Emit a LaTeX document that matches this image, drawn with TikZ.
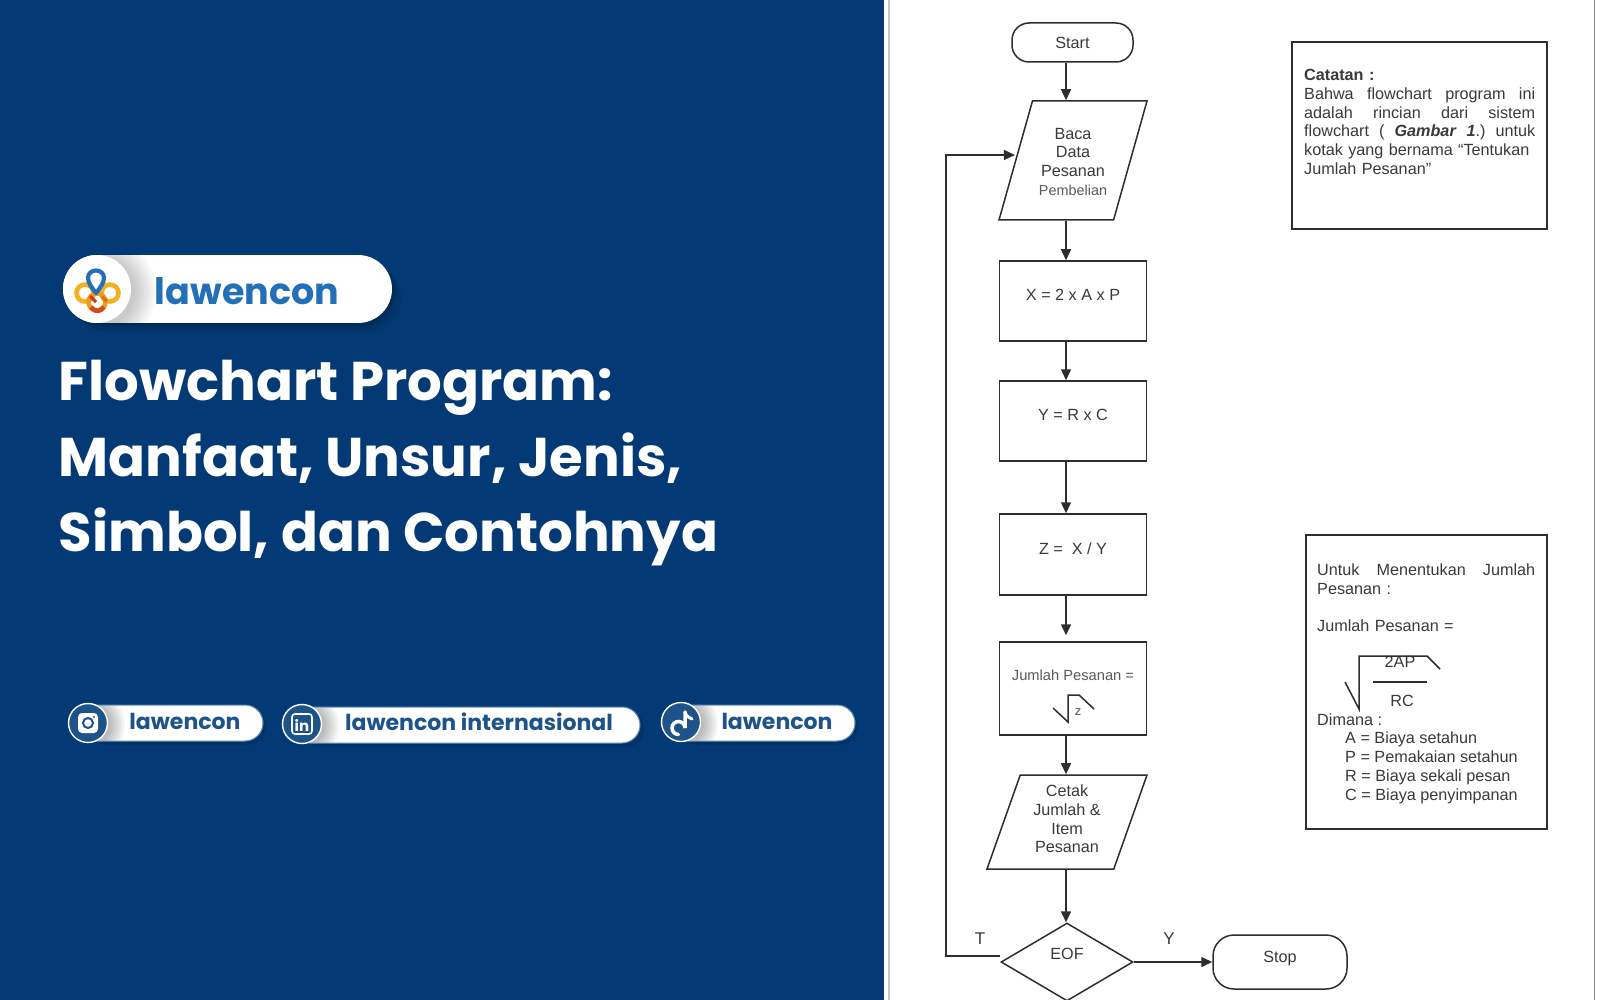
\documentclass[tikz,border=0pt]{standalone}
\usepackage{fontspec}
\setmainfont{Liberation Sans}
\newfontfamily\popf{Poppins}
\usetikzlibrary{arrows.meta,shapes.geometric,calc}
\definecolor{navy}{HTML}{033A75}
\definecolor{ink}{HTML}{2E2E2E}
\definecolor{txt}{HTML}{3A3A3A}
\definecolor{soft}{HTML}{5A5A5A}
\definecolor{brand}{HTML}{2470B8}
\definecolor{social}{HTML}{1D5389}
\definecolor{rim}{HTML}{5F8DBB}
\definecolor{edgeA}{HTML}{C6C6C6}
\definecolor{edgeB}{HTML}{8A8A8A}
\definecolor{ringA}{HTML}{F4B01E}
\definecolor{ringB}{HTML}{EE9A1C}
\definecolor{ringC}{HTML}{D8481C}
\definecolor{ringD}{HTML}{C9391E}
\definecolor{ringE}{HTML}{E46A1E}
\newcommand\lift[2]{\raisebox{#1}[0pt][0pt]{#2}}
\newcommand\jl[1]{\makebox[231pt][s]{#1}}
\tikzset{
  fc/.style={draw=ink,line width=1.5pt,fill=white,inner sep=0pt,text=txt,align=center,
    font=\fontsize{16.2}{18.6}\selectfont},
  procbox/.style={fc,rectangle,minimum width=147pt},
  termbox/.style={fc,rectangle},
  iobox/.style={fc,trapezium,trapezium stretches body=true},
  arr/.style={draw=ink,line width=1.5pt,-{Triangle[length=11pt,width=10pt]}},
  note/.style={draw=ink,line width=1.5pt,fill=white},
  notetxt/.style={inner sep=0pt,anchor=north west,align=left,text=txt,
    font=\fontsize{16.2}{18.8}\selectfont},
  title/.style={inner sep=0pt,anchor=base west,text=white,font=\popf\bfseries\fontsize{54.5}{60}\selectfont},
  pill/.style={fill=white,draw=rim,line width=1pt,rounded corners=18pt},
  badge/.style={circle,fill=social,draw=white,line width=1.4pt,minimum size=39pt,inner sep=0pt},
  sociallab/.style={inner sep=0pt,text=social,font=\popf\bfseries\fontsize{22}{24}\selectfont},
  handdrawn/.style={draw=ink,line width=1.5pt,line join=miter},
}
\begin{document}
\begin{tikzpicture}[x=1pt,y=-1pt]
\useasboundingbox (0,0) rectangle (1600,1000);
% page
\fill[white] (0,0) rectangle (1600,1000);
\fill[navy] (0,0) rectangle (884,1000);
\fill[edgeA] (887.5,0) rectangle (890,1000);
\fill[edgeB] (1593.5,0) rectangle (1595,1000);

% ---------- logo pill
\foreach \s/\o in {10/.05,7/.06,4/.08,2/.08}{
  \fill[black,opacity=\o,rounded corners=34pt] (63+\s,255+\s) rectangle (392+\s,323+\s);
}
\begin{scope}
  \clip[rounded corners=34pt] (63,255) rectangle (392,323);
  \fill[white] (63,255) rectangle (392,323);
  \foreach \r in {35,38,...,56}{ \fill[black,opacity=.028] (100,292) circle[radius=\r]; }
\end{scope}
\node[circle,fill=white,minimum size=68pt,inner sep=0pt] (logocircle) at (97,289) {};
\begin{scope}[line width=4.6pt]
  \draw[ringA] (85,293) circle[radius=8.5];
  \draw[ringA] (110,293) circle[radius=8.5];
  \draw[ringB] (97,302) circle[radius=8.5];
  \draw[ringC] (91,307) arc[start angle=150,end angle=30,radius=7.5];
  \draw[ringD,line width=3pt] (90,296) -- (96,302);
  \draw[ringE,line width=3pt] (102,297) -- (107,301);
\end{scope}
\draw[brand,line width=4.2pt,line join=round]
  (96,293) .. controls (92,288) and (88,283) .. (88,278)
  .. controls (88,268) and (104,268) .. (104,278)
  .. controls (104,283) and (100,288) .. (96,293) -- cycle;
\node[inner sep=0pt,text=brand,font=\popf\bfseries\fontsize{36.5}{40}\selectfont] (logotext) at (247,291) {lawencon};

% ---------- title
\node[title] (t1) at (58.5,400.5) {Flowchart Program:};
\node[title] (t2) at (58.5,476) {Manfaat, Unsur, Jenis,};
\node[title] (t3) at (58.5,551.5) {Simbol, dan Contohnya};

% ---------- social pills
\fill[black,opacity=.12,rounded corners=18pt] (90,708) rectangle (266,745);
\fill[black,opacity=.12,rounded corners=18pt] (302,710) rectangle (644,747);
\fill[black,opacity=.12,rounded corners=18pt] (680,708) rectangle (858,745);
\draw[pill] (80,705) rectangle (263,741);
\draw[pill] (292,707) rectangle (640,743);
\draw[pill] (670,705) rectangle (855,741);
\begin{scope}
  \clip[rounded corners=18pt] (80,705.5) rectangle (263,740.5);
  \foreach \r in {21,23,...,35}{ \fill[black,opacity=.035] (90,725) circle[radius=\r]; }
\end{scope}
\begin{scope}
  \clip[rounded corners=18pt] (292,707.5) rectangle (640,742.5);
  \foreach \r in {21,23,...,35}{ \fill[black,opacity=.035] (304,726) circle[radius=\r]; }
\end{scope}
\begin{scope}
  \clip[rounded corners=18pt] (670,705.5) rectangle (855,740.5);
  \foreach \r in {21,23,...,35}{ \fill[black,opacity=.035] (683,724) circle[radius=\r]; }
\end{scope}
\node[sociallab] (s1) at (185,721) {lawencon};
\node[sociallab] (s2) at (479,722) {lawencon internasional};
\node[sociallab] (s3) at (777,721) {lawencon};
\node[badge] (ig) at (88,723) {};
\node[badge] (li) at (302,724) {};
\node[badge] (tt) at (681,722) {};
% instagram glyph
\fill[white,rounded corners=4pt] (78,713) rectangle (98,733);
\draw[social,line width=2pt] (88,723) circle[radius=5];
\fill[social] (94,717) circle[radius=1.2];
% linkedin glyph
\draw[white,line width=1.6pt,rounded corners=3pt] (292,714) rectangle (312,734);
\node[inner sep=0pt,text=white,font=\popf\bfseries\fontsize{15}{15}\selectfont] (ligl) at (302,725) {in};
% tiktok glyph
\draw[white,line width=3.5pt,line cap=round] (685,712) -- (685,728) arc[start angle=0,end angle=-270,radius=6.5];
\draw[white,line width=3pt,line cap=round] (685,712) .. controls (686,716) and (689,718) .. (692,719);

% ---------- flowchart
\node[termbox,rounded corners=17pt,minimum width=121pt,minimum height=39pt] (start) at (1072.5,42.5) {Start};
\node[iobox,trapezium left angle=67.4,trapezium right angle=112.6,minimum width=148pt,minimum height=119pt] (baca) at (1073,160.5)
  {\begin{tabular}{@{}c@{}}\rule{0pt}{19pt}Baca\\Data\\Pesanan\\{\color{soft}\fontsize{14.4}{18.6}\selectfont Pembelian}\end{tabular}};
\node[procbox,minimum height=80pt] (xbox) at (1073,301) {\lift{0.5pt}{X = 2 x A x P}};
\node[procbox,minimum height=80pt] (ybox) at (1073,421) {\lift{0.5pt}{Y = R x C}};
\node[procbox,minimum height=81pt] (zbox) at (1073,554.5) {\lift{0.5pt}{Z =\ \ X / Y}};
\node[procbox,minimum height=93pt] (jbox) at (1073,688.5) {\lift{8pt}{\color{soft}\fontsize{14.7}{18}\selectfont Jumlah Pesanan =}};
\node[iobox,trapezium left angle=66.5,trapezium right angle=113.5,minimum width=160pt,minimum height=94pt] (cetak) at (1067,822)
  {\begin{tabular}{@{}c@{}}Cetak\\Jumlah \&\\Item\\Pesanan\rule[-7.6pt]{0pt}{0pt}\end{tabular}};
\node[fc,diamond,minimum width=132pt,minimum height=78pt] (eof) at (1067,962) {\lift{3pt}{EOF}};
\node[termbox,rounded corners=21pt,minimum width=134pt,minimum height=54pt] (stop) at (1280,962) {\lift{0pt}{Stop}};

% root in Jumlah box
\node[inner sep=0pt,text=soft,font=\fontsize{13}{14}\selectfont] (zlab) at (1078,712) {z};
\draw[handdrawn] (1053,708) -- (1068,722) -- (1068,695) -- (1079,695) -- (1094,709);

% connectors
\coordinate (ax) at (1066,0);
\coordinate (retL) at (946,956);
\draw[arr] (start.south -| ax) -- (baca.north -| ax);
\draw[arr] (baca.south -| ax) -- (xbox.north -| ax);
\draw[arr] (xbox.south -| ax) -- (ybox.north -| ax);
\draw[arr] (ybox.south -| ax) -- (zbox.north -| ax);
\draw[arr,shorten >=6pt] (zbox.south -| ax) -- (jbox.north -| ax);
\draw[arr] (jbox.south -| ax) -- (cetak.north -| ax);
\draw[arr] (cetak.south -| ax) -- (eof.north -| ax);
\draw[arr] (eof.east) -- (stop.west);
\draw[arr] ([yshift=6pt]eof.west) -- (retL) |- ([yshift=5.5pt]baca.west);
\node[inner sep=0pt,text=txt,font=\fontsize{17}{18}\selectfont] (tlab) at (980,939) {T};
\node[inner sep=0pt,text=txt,font=\fontsize{17}{18}\selectfont] (ylab) at (1169,939) {Y};

% note 1
\draw[note] (1292,42) rectangle (1547,229);
\node[notetxt,text width=231pt] (catatan) at (1304,69) {%
  \textbf{Catatan :}\\
  \jl{Bahwa\hfill flowchart\hfill program\hfill ini}\\
  \jl{adalah\hfill rincian\hfill dari\hfill sistem}\\
  \jl{flowchart\hfill (\hfill \textbf{\textit{Gambar\ \ 1}}.)\hfill untuk}\\
  \jl{kotak yang bernama “Tentukan}\\
  Jumlah Pesanan"};

% note 2
\draw[note] (1306,535) rectangle (1547,829);
\node[notetxt,text width=218pt] (untuk) at (1317,563.5) {%
  \makebox[218pt][s]{Untuk\hfill Menentukan\hfill Jumlah}\\
  Pesanan :\\[18.8pt]
  Jumlah Pesanan =};
\node[inner sep=0pt,text=txt,font=\fontsize{16.2}{18}\selectfont] (ap) at (1400,662) {2AP};
\node[inner sep=0pt,text=txt,font=\fontsize{16.2}{18}\selectfont] (rc) at (1402,701) {RC};
\draw[handdrawn] (1373,682) -- (1427,682);
\draw[handdrawn] (1345,682) -- (1359,709) -- (1359,656) -- (1427,656) -- (1440,669);
\node[notetxt] (dim) at (1317,714) {Dimana :};
\node[notetxt] (defs) at (1345,732) {A = Biaya setahun\\P = Pemakaian setahun\\R = Biaya sekali pesan\\C = Biaya penyimpanan};
\end{tikzpicture}
\end{document}
